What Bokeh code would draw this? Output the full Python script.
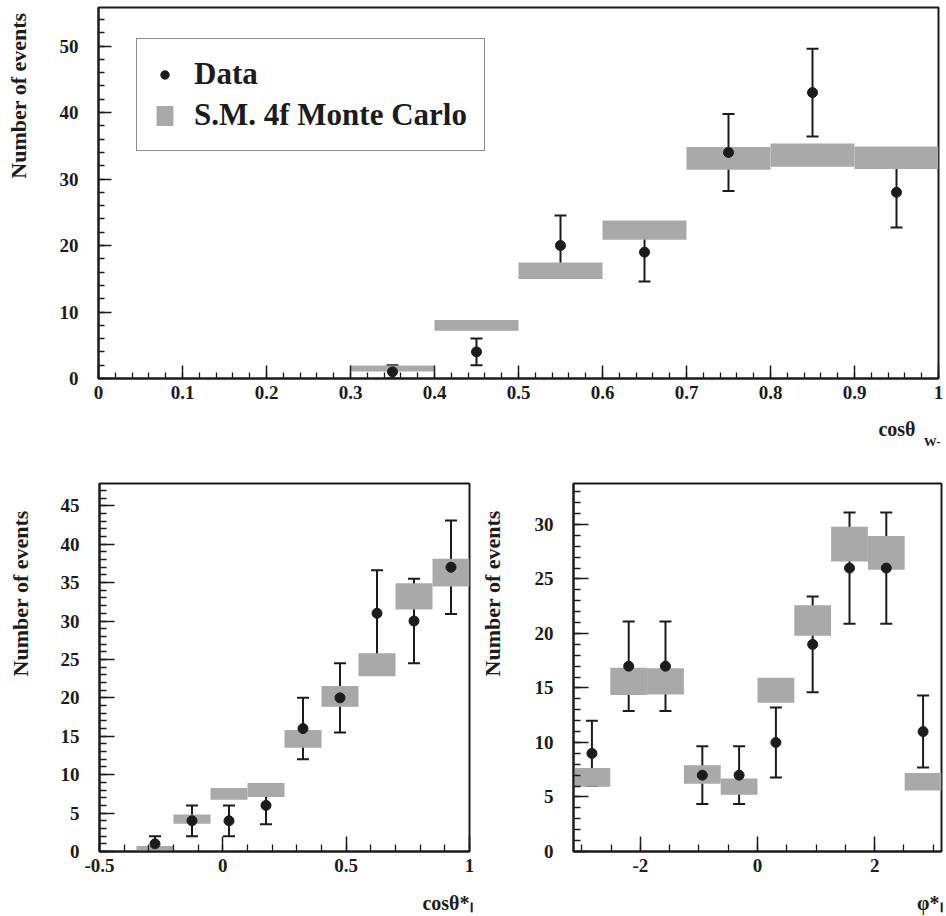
import numpy as np
from bokeh.plotting import figure
from bokeh.layouts import column, row
from bokeh.models import (Range1d, SingleIntervalTicker, CustomJSTickFormatter, Whisker,
                          TeeHead, ColumnDataSource, Legend, LegendItem, Title, Label)
from bokeh.embed import file_html
from bokeh.resources import INLINE

# ---------------- data ----------------
# top panel: cos(theta_W-)
w_bin_width = 0.1
w_mc_centers = [0.35, 0.45, 0.55, 0.65, 0.75, 0.85, 0.95]
w_mc = [1.5, 8.0, 16.2, 22.3, 33.1, 33.6, 33.2]
w_mc_unc = [0.45, 0.8, 1.25, 1.45, 1.7, 1.75, 1.7]
w_data_centers = [0.35, 0.45, 0.55, 0.65, 0.75, 0.85, 0.95]
w_data = [1, 4, 20, 19, 34, 43, 28]
w_err = [1.0, 2.0, 4.5, 4.4, 5.8, 6.6, 5.3]

# bottom-left panel: cos(theta*_l)
l_bin_width = 0.15
l_mc_centers = [-0.425, -0.275, -0.125, 0.025, 0.175, 0.325, 0.475, 0.625, 0.775, 0.925]
l_mc = [0.0, 0.4, 4.2, 7.5, 8.0, 14.65, 20.2, 24.3, 33.2, 36.3]
l_mc_unc = [0.0, 0.3, 0.6, 0.75, 0.9, 1.15, 1.35, 1.5, 1.7, 1.8]
l_data_centers = [-0.275, -0.125, 0.025, 0.175, 0.325, 0.475, 0.625, 0.775, 0.925]
l_data = [1, 4, 4, 6, 16, 20, 31, 30, 37]
l_err = [1.0, 2.0, 2.0, 2.45, 4.0, 4.5, 5.6, 5.5, 6.1]

# bottom-right panel: phi*_l
p_bin_width = 0.628
p_centers = [-2.827, -2.199, -1.571, -0.942, -0.314, 0.314, 0.942, 1.571, 2.199, 2.827]
p_mc = [6.8, 15.6, 15.6, 7.07, 5.95, 14.8, 21.2, 28.2, 27.4, 6.4]
p_mc_unc = [0.85, 1.25, 1.2, 0.85, 0.75, 1.15, 1.4, 1.6, 1.55, 0.8]
p_data = [9, 17, 17, 7, 7, 10, 19, 26, 26, 11]
p_err = [3.0, 4.1, 4.1, 2.65, 2.65, 3.2, 4.4, 5.1, 5.1, 3.3]

INK = "#1c1c1c"
GRAY = "#a9a9a9"
FONT = "Liberation Serif"
Y_TITLE = "Number of events"


def style_axis(ax, interval, n_minor, standoff, major_len, minor_len):
    ax.ticker = SingleIntervalTicker(interval=interval, num_minor_ticks=n_minor)
    ax.formatter = CustomJSTickFormatter(code="return Number(tick.toFixed(3)).toString();")
    ax.major_tick_in = major_len
    ax.major_tick_out = 0
    ax.minor_tick_in = minor_len
    ax.minor_tick_out = 0
    ax.major_tick_line_width = 1.5
    ax.minor_tick_line_width = 1.3
    ax.major_tick_line_color = INK
    ax.minor_tick_line_color = INK
    ax.axis_line_width = 2
    ax.axis_line_color = INK
    ax.major_label_text_font = FONT
    ax.major_label_text_font_style = "bold"
    ax.major_label_text_font_size = "19px"
    ax.major_label_text_color = INK
    ax.major_label_standoff = standoff


def side_title(p, text, side, size, offset, standoff, align="right", valign="bottom"):
    p.add_layout(Title(text=text, align=align, offset=offset, standoff=standoff,
                       vertical_align=valign, text_font=FONT, text_font_style="bold",
                       text_font_size=size, text_color=INK), side)


def make_panel(width, height, borders, xr, yr, xtick, ytick, major_len, minor_len, spacer):
    left, right, top, bottom = borders
    p = figure(width=width, height=height, x_range=Range1d(*xr), y_range=Range1d(*yr),
               output_backend="svg", toolbar_location=None,
               min_border_left=left, min_border_right=right,
               min_border_top=top, min_border_bottom=bottom)
    p.xgrid.visible = False
    p.ygrid.visible = False
    p.outline_line_color = INK
    p.outline_line_width = 2
    p.background_fill_color = "white"
    p.border_fill_color = "white"
    xa, ya = p.xaxis[0], p.yaxis[0]
    style_axis(xa, xtick[0], xtick[1], 7, major_len, minor_len)
    style_axis(ya, ytick[0], ytick[1], 20, major_len, minor_len)
    # invisible spacer label below the x tick labels (pushes the x titles down)
    xa.axis_label = "\u00a0"
    xa.axis_label_text_font_size = spacer
    xa.axis_label_standoff = 0
    return p


def title_strip(width, height, x_center, top_px):
    """Narrow axis-less figure that carries a rotated, top-aligned y title."""
    s = figure(width=width, height=height, x_range=Range1d(0, width), y_range=Range1d(0, height),
               output_backend="svg", toolbar_location=None,
               x_axis_location=None, y_axis_location=None,
               min_border=0, min_border_left=0, min_border_right=0,
               min_border_top=0, min_border_bottom=0)
    s.xgrid.visible = False
    s.ygrid.visible = False
    s.outline_line_color = None
    s.background_fill_color = "white"
    s.border_fill_color = "white"
    s.add_layout(Label(x=x_center, y=height - top_px, text=Y_TITLE, angle=np.pi / 2,
                       text_align="right", text_baseline="middle", text_font=FONT,
                       text_font_style="bold", text_font_size="22px", text_color=INK))
    return s


def add_content(p, mc_c, mc, mc_u, bw, d_c, d, d_e):
    mc_src = ColumnDataSource(dict(
        left=[c - bw / 2 for c in mc_c], right=[c + bw / 2 for c in mc_c],
        top=[m + u for m, u in zip(mc, mc_u)], bottom=[m - u for m, u in zip(mc, mc_u)]))
    mc_r = p.quad(left="left", right="right", top="top", bottom="bottom", source=mc_src,
                  fill_color=GRAY, line_color=None)
    d_src = ColumnDataSource(dict(x=d_c, y=d,
                                  hi=[v + e for v, e in zip(d, d_e)],
                                  lo=[v - e for v, e in zip(d, d_e)]))
    wk = Whisker(source=d_src, base="x", upper="hi", lower="lo", dimension="height",
                 line_color=INK, line_width=2,
                 upper_head=TeeHead(size=12, line_color=INK, line_width=2),
                 lower_head=TeeHead(size=12, line_color=INK, line_width=2))
    p.add_layout(wk)
    pts = p.scatter(x="x", y="y", source=d_src, size=10, marker="circle",
                    fill_color=INK, line_color=INK)
    return mc_r, pts


STRIP_W = 36

# ---------------- top panel ----------------
st = title_strip(STRIP_W, 448, 18, 6)
pt = make_panel(946 - STRIP_W, 448, (98 - STRIP_W, 8, 7, 70), (0, 1), (0, 55.8),
                (0.1, 5), (10, 5), 13, 6, "10px")
mc_r, pts = add_content(pt, w_mc_centers, w_mc, w_mc_unc, w_bin_width,
                        w_data_centers, w_data, w_err)
legend = Legend(items=[LegendItem(label="Data", renderers=[pts]),
                       LegendItem(label="S.M. 4f Monte Carlo", renderers=[mc_r])],
                location=(38, 227), border_line_color=INK, border_line_width=1.5,
                background_fill_color="white", background_fill_alpha=1.0,
                label_text_font=FONT, label_text_font_style="bold",
                label_text_font_size="31px", label_text_color=INK,
                glyph_width=21, glyph_height=25, label_standoff=19,
                padding=17, spacing=5, margin=0, label_height=30)
pt.add_layout(legend)
side_title(pt, "cosθ", "below", "20px", 23, 0)
side_title(pt, "W-", "below", "13px", -2, -18)

# ---------------- bottom-left panel ----------------
sl = title_strip(STRIP_W, 468, 20, 34)
pl = make_panel(478 - STRIP_W, 468, (99 - STRIP_W, 9, 35, 64), (-0.5, 1.0), (0, 47.9),
                (0.5, 5), (5, 5), 15, 7, "8px")
add_content(pl, l_mc_centers, l_mc, l_mc_unc, l_bin_width, l_data_centers, l_data, l_err)
side_title(pl, "cosθ*ₗ", "below", "20px", -3, 6)

# ---------------- bottom-right panel ----------------
sr = title_strip(STRIP_W, 468, 14, 34)
pr = make_panel(468 - STRIP_W, 468, (95 - STRIP_W, 5, 35, 64), (-np.pi, np.pi), (0, 33.76),
                (2, 4), (5, 5), 15, 7, "8px")
add_content(pr, p_centers, p_mc, p_mc_unc, p_bin_width, p_centers, p_data, p_err)
side_title(pr, "φ*ₗ", "below", "20px", -1, 6)

layout = column(row(st, pt, spacing=0), row(sl, pl, sr, pr, spacing=0), spacing=0)
open("out.html", "w").write(file_html(layout, INLINE))
